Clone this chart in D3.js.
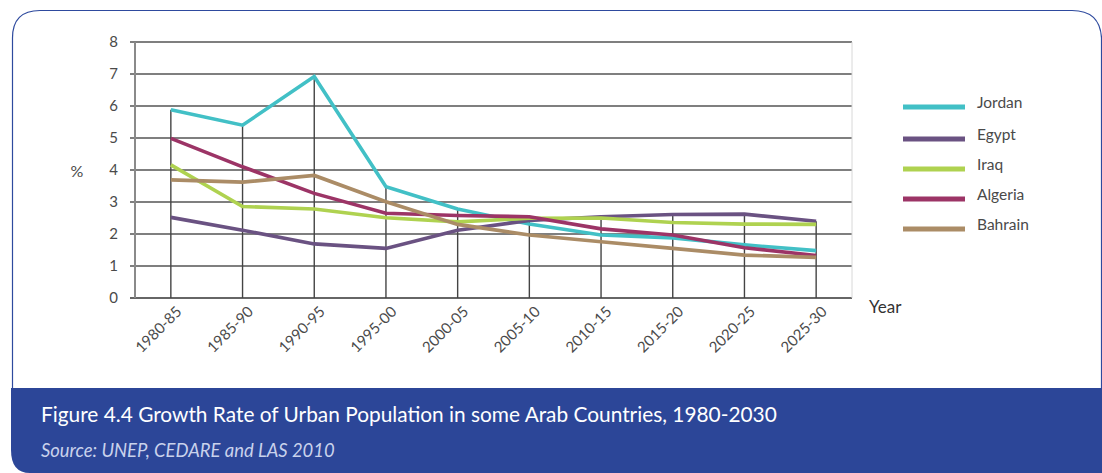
<!DOCTYPE html>
<html>
<head>
<meta charset="utf-8">
<script src="https://cdn.jsdelivr.net/npm/d3@7"></script>
<style>
  html, body { margin: 0; padding: 0; background: #fff; }
  svg { display: block; font-family: Lato, "Noto Sans", sans-serif; }
</style>
</head>
<body>
<svg id="chart" width="1102" height="473"></svg>
<script>
// Periods on the horizontal axis
const periods = ["1980-85", "1985-90", "1990-95", "1995-00", "2000-05",
                 "2005-10", "2010-15", "2015-20", "2020-25", "2025-30"];

// Urban population growth rate (%) per period
const jordan  = [5.88, 5.40, 6.92, 3.48, 2.78, 2.31, 1.97, 1.88, 1.66, 1.48];
const egypt   = [2.52, 2.12, 1.69, 1.55, 2.12, 2.42, 2.54, 2.61, 2.62, 2.40];
const iraq    = [4.16, 2.86, 2.78, 2.51, 2.38, 2.49, 2.50, 2.36, 2.31, 2.30];
const algeria = [4.99, 4.10, 3.27, 2.65, 2.58, 2.54, 2.16, 1.97, 1.57, 1.33];
const bahrain = [3.69, 3.62, 3.83, 3.01, 2.30, 1.97, 1.76, 1.55, 1.34, 1.27];

const seriesNames  = ["Jordan", "Egypt", "Iraq", "Algeria", "Bahrain"];
const seriesColors = ["#42c0c6", "#6a5282", "#afd250", "#9c3466", "#ab8c66"];
const yTicks = [0, 1, 2, 3, 4, 5, 6, 7, 8];

const series = seriesNames.map((name, i) => ({
  name, color: seriesColors[i],
  values: [jordan, egypt, iraq, algeria, bahrain][i]
}));

const svg = d3.select("#chart");

// Frame with rounded top corners and the blue caption band
const frameColor = "#2e4a9e";
svg.append("path")
  .attr("d", "M12.5,388 L12.5,38 Q12.5,10.5 40,10.5 L1072,10.5 Q1100,10.5 1101.5,38 L1101.5,388")
  .attr("fill", "none").attr("stroke", frameColor).attr("stroke-width", 1.2);
svg.append("path")
  .attr("d", "M11,388 L1102,388 L1102,473 L30,473 Q11,473 11,450 Z")
  .attr("fill", "#2c4698");

// Scales
const x = d3.scaleBand().domain(periods).range([135, 852]);
const cx = d => x(d) + x.bandwidth() / 2;
const y = d3.scaleLinear().domain([0, 8]).range([298, 42]);

// Horizontal grid lines with tick stubs
const grid = svg.append("g");
grid.selectAll("line").data(yTicks).join("line")
  .attr("x1", 130).attr("x2", 852)
  .attr("y1", d => y(d)).attr("y2", d => y(d))
  .attr("stroke", d => d === 0 ? "#333" : "#555")
  .attr("stroke-width", d => d === 0 ? 1.6 : 1.3);

// Left axis line and faint right border of the plot
svg.append("line").attr("x1", 135).attr("x2", 135)
  .attr("y1", y(8)).attr("y2", y(0))
  .attr("stroke", "#8a8a8a").attr("stroke-width", 2);
svg.append("line").attr("x1", 852).attr("x2", 852)
  .attr("y1", y(8)).attr("y2", y(0))
  .attr("stroke", "#d8d8d8").attr("stroke-width", 1);

// Drop lines from the highest value at each period down to zero
const maxByPeriod = periods.map((p, i) => ({ p, v: d3.max(series, s => s.values[i]) }));
svg.append("g").selectAll("line").data(maxByPeriod).join("line")
  .attr("x1", d => cx(d.p)).attr("x2", d => cx(d.p))
  .attr("y1", d => y(d.v)).attr("y2", y(0))
  .attr("stroke", "#444").attr("stroke-width", 1.4);

// Y axis labels
const yAxis = d3.axisLeft(y).tickValues(yTicks).tickSize(0).tickPadding(0).tickFormat(d3.format("d"));
const yg = svg.append("g").attr("transform", "translate(118,0)").call(yAxis);
yg.select(".domain").remove();
yg.selectAll("text").attr("font-size", 15).attr("fill", "#4a4a4a").attr("font-family", "Lato, sans-serif");

// X axis labels, rotated
const xAxis = d3.axisBottom(x).tickSize(0).tickPadding(0);
const xg = svg.append("g").attr("transform", "translate(0,298)").call(xAxis);
xg.select(".domain").remove();
xg.selectAll("text")
  .attr("font-size", 15).attr("fill", "#4a4a4a").attr("font-family", "Lato, sans-serif")
  .attr("text-anchor", "end")
  .attr("transform", "translate(8,11) rotate(-45)")
  .attr("dy", "0.35em").attr("y", 0);

// Axis titles
svg.append("text").attr("x", 77).attr("y", 177).attr("text-anchor", "middle")
  .attr("font-size", 16).attr("fill", "#4a4a4a").text("%");
svg.append("text").attr("x", 869).attr("y", 313)
  .attr("font-size", 17).attr("fill", "#333").text("Year");

// Series lines
const line = d3.line().x((d, i) => cx(periods[i])).y(d => y(d));
svg.append("g").selectAll("path").data(series).join("path")
  .attr("d", d => line(d.values))
  .attr("fill", "none").attr("stroke", d => d.color)
  .attr("stroke-width", 3.6).attr("stroke-linejoin", "miter");

// Legend
const legendY = [107, 139, 169, 199, 229];
const lg = svg.append("g").selectAll("g").data(series).join("g")
  .attr("transform", (d, i) => `translate(903,${legendY[i]})`);
lg.append("line").attr("x1", 0).attr("x2", 62)
  .attr("stroke", d => d.color).attr("stroke-width", 5);
lg.append("text").attr("x", 74).attr("y", 1)
  .attr("font-size", 15.5).attr("fill", "#4a4a4a").text(d => d.name);

// Caption
const title = svg.append("text").attr("x", 41).attr("y", 422)
  .attr("font-size", 18).attr("fill", "#fff")
  .text("Figure 4.4 Growth Rate of Urban Population in some Arab Countries, 1980-2030");
const tw = title.node().getComputedTextLength();
title.attr("font-size", 18 * 736 / tw);
const src = svg.append("text").attr("x", 41).attr("y", 457)
  .attr("font-size", 14).attr("font-style", "italic").attr("fill", "#c9d2ec")
  .text("Source: UNEP, CEDARE and LAS 2010");
const sw = src.node().getComputedTextLength();
src.attr("font-size", 14 * 294 / sw);
</script>
</body>
</html>
